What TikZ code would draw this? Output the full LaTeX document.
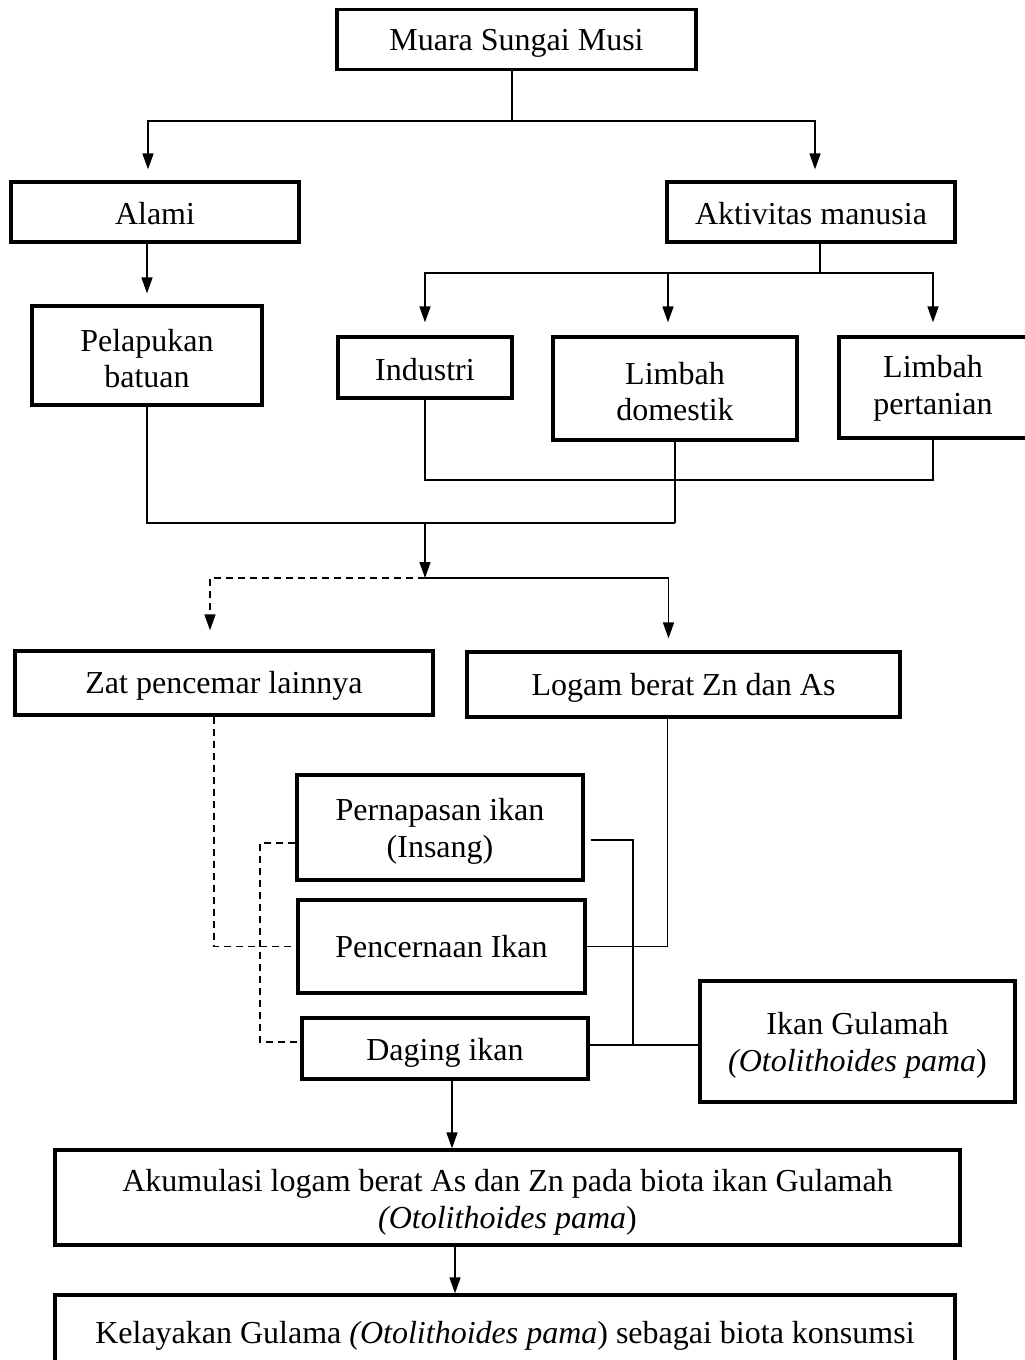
\documentclass[tikz,border=0pt]{standalone}
\usepackage{fontspec}
\setmainfont{Liberation Serif}
\usetikzlibrary{arrows.meta,calc}
\begin{document}
\begin{tikzpicture}[x=1pt,y=-1pt,
  box/.style={draw,line width=3.3pt,rectangle,inner sep=0pt},
  txt/.style={inner sep=0pt,align=center,font=\fontsize{32}{36.5}\selectfont},
  conn/.style={line width=1.6pt},
  arr/.style={conn,-{Triangle[length=16pt,width=11pt]}},
  dsh/.style={conn,dash pattern=on 7pt off 5pt}]
\newcommand\bx[6]{%
  \node[box,minimum width=#3pt,minimum height=#4pt] (#1) at (#2) {};
  \node[txt] (#1t) at ($(#1)+(0,#5)$) {#6};}
\clip (0,0) rectangle (1025,1360);
\fill[white] (0,0) rectangle (1025,1360);
% boxes
\bx{top}{516.5,39.5}{359}{60}{4}{Muara Sungai Musi}
\bx{alami}{155,212}{288}{60}{2}{Alami}
\bx{aktiv}{811,212}{288}{60}{2}{Aktivitas manusia}
\bx{pelap}{147,355.5}{230}{99}{3}{Pelapukan\\batuan}
\bx{indus}{425,367.5}{174}{61}{2}{Industri}
\bx{domes}{675,388.5}{244}{103}{3}{Limbah\\domestik}
\bx{pert}{933,387.5}{188}{101}{1}{Limbah\\pertanian}
\bx{zat}{224,683}{418}{64}{3}{Zat pencemar lainnya}
\bx{logam}{683.5,684.5}{433}{65}{3}{Logam berat Zn dan As}
\bx{pern}{440,827.5}{286}{105}{4}{Pernapasan ikan\\(Insang)}
\bx{penc}{441.5,946.5}{287}{93}{0}{Pencernaan Ikan}
\bx{dag}{445,1048.5}{286}{61}{4}{Daging ikan}
\bx{gul}{857.5,1041.5}{315}{121}{4}{Ikan Gulamah\\\textit{(Otolithoides pama})}
\bx{akum}{507.5,1197.5}{905}{95}{5}{Akumulasi logam berat As dan Zn pada biota ikan Gulamah\\\textit{(Otolithoides pama})}
\bx{kel}{505,1333}{900}{76}{3}{Kelayakan Gulama \textit{(Otolithoides pama}) sebagai biota konsumsi}
% junctions
\coordinate (j1) at (512,121);
\coordinate (j2) at (820,273);
\coordinate (j3) at (675,480);
\coordinate (j4) at (675,523);
\coordinate (j5) at (425,523);
\coordinate (j6) at (425,578);
\coordinate (d1) at (260,843);
\coordinate (d2) at (260,1042);
\coordinate (r1) at (633,840);
\coordinate (r2) at (633,1045);
% connectors
\draw[conn] (top.south -| j1) -- (j1);
\draw[arr,shorten >=11pt] (j1) -| ($(alami.north)+(-7,0)$);
\draw[arr,shorten >=11pt] (j1) -| ($(aktiv.north)+(4,0)$);
\draw[arr,shorten >=11pt] (alami.south -| pelap.north) -- (pelap.north);
\draw[conn] (aktiv.south -| j2) -- (j2);
\draw[arr,shorten >=13pt] (j2) -| (indus.north);
\draw[arr,shorten >=13pt] (j2) -| (pert.north);
\draw[arr,shorten >=13pt] ($(domes.north |- j2)+(-7,0)$) -- ($(domes.north)+(-7,0)$);
\draw[conn] (indus.south) |- (j3) -| (pert.south);
\draw[conn] (domes.south) -- (j3) -- (j4);
\draw[conn] (pelap.south) |- (j4);
\draw[arr] (j5) -- (j6);
\draw[dsh] (j6) -| ($(zat.north)+(-14,-24)$);
\draw[arr] ($(zat.north)+(-14,-26)$) -- ($(zat.north)+(-14,-19)$);
\draw[arr,shorten >=12pt] (j6) -| ($(logam.north)+(-15,0)$);
\draw[dsh] ($(zat.south)+(-10,0)$) |- (penc.west);
\draw[conn] ($(logam.south)+(-16,0)$) |- (penc.east);
\draw[dsh] (pern.west |- d1) -- (d1) -- (d2) -- (dag.west |- d2);
\draw[conn] ($(pern.east |- r1)+(6,0)$) -- (r1) -- (r2);
\draw[conn] (dag.east |- r2) -- (gul.west |- r2);
\draw[arr] ($(dag.south)+(7,0)$) -- ($(dag.south |- akum.north)+(7,0)$);
\draw[arr] ($(dag.south |- akum.south)+(10,0)$) -- ($(dag.south |- kel.north)+(10,0)$);
\end{tikzpicture}
\end{document}
